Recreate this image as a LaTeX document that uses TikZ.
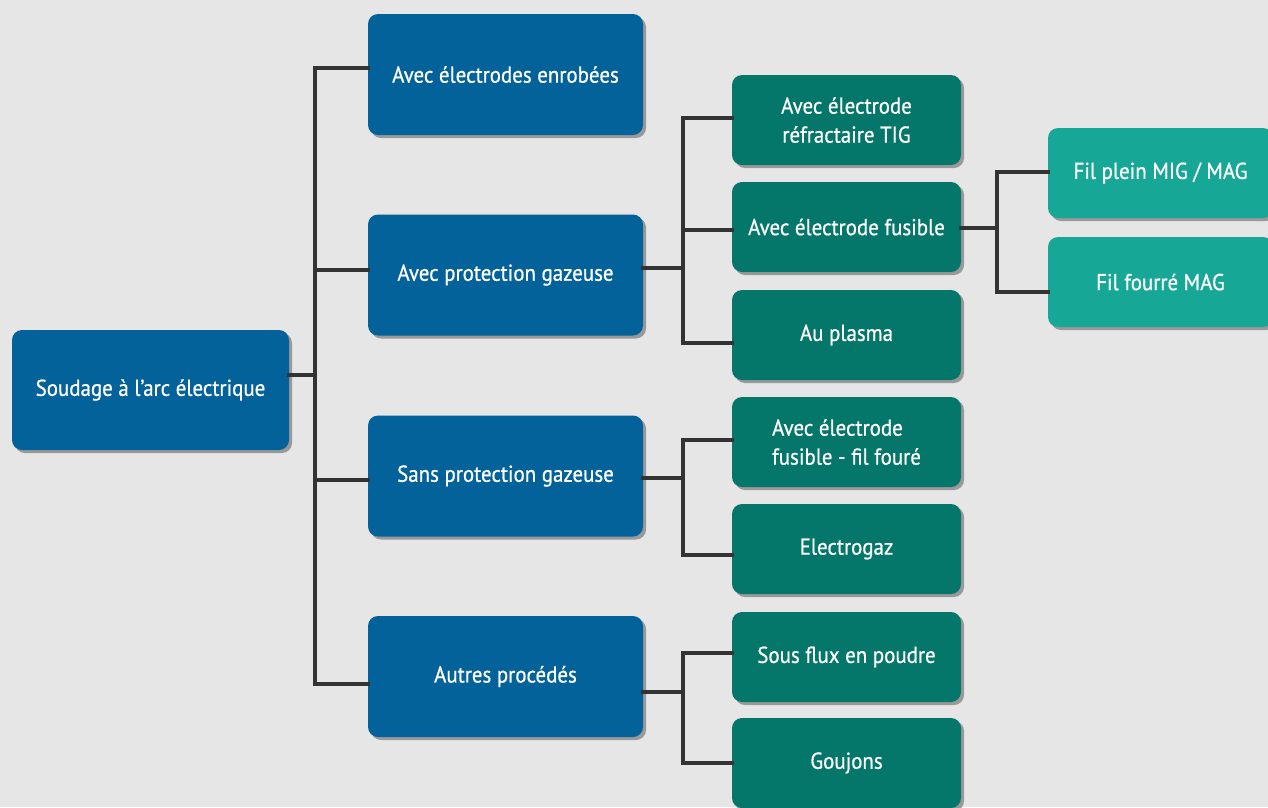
\documentclass[tikz,border=0pt]{standalone}
\usepackage{fontspec}
\setmainfont{PT Sans}[FakeStretch=0.91, FakeBold=0.7]
\usetikzlibrary{shadows}
\definecolor{bg}{HTML}{E6E6E6}
\definecolor{bluebox}{HTML}{03629A}
\definecolor{darkteal}{HTML}{05766A}
\definecolor{lightteal}{HTML}{17A797}
\definecolor{conncol}{HTML}{333333}
\tikzset{
  boxbase/.style={rounded corners=10pt, text=white, align=center,
    font=\fontsize{23}{29}\selectfont, inner sep=0pt,
    drop shadow={shadow xshift=3pt, shadow yshift=-3pt, fill=black!40, opacity=1}},
  lvlzero/.style={boxbase, fill=bluebox, minimum width=277pt, minimum height=120pt},
  lvlone/.style={boxbase, fill=bluebox, minimum width=275pt, minimum height=121pt},
  lvltwo/.style={boxbase, fill=darkteal, minimum width=229pt, minimum height=90pt},
  lvlthree/.style={boxbase, fill=lightteal, minimum width=225pt, minimum height=90pt},
  conn/.style={draw=conncol, line width=4.5pt, line cap=rect}
}
\begin{document}
\begin{tikzpicture}[x=1pt, y=-1pt]
\useasboundingbox (0,0) rectangle (1268,807);
\fill[bg] (0,0) rectangle (1268,807);

% nodes
\node[lvlzero] (root) at (150.5,390) {Soudage à l’arc électrique};

\node[lvlone] (enr) at (505.5,74.5) {Avec électrodes enrobées};
\node[lvlone] (avg) at (505.5,275) {Avec protection gazeuse};
\node[lvlone] (sag) at (505.5,476) {Sans protection gazeuse};
\node[lvlone] (aut) at (505.5,676.5) {Autres procédés};

\node[lvltwo] (tig) at (846.5,120) {Avec électrode\\réfractaire TIG};
\node[lvltwo] (fus) at (846.5,227) {Avec électrode fusible};
\node[lvltwo] (pla) at (846.5,335) {Au plasma};
\node[lvltwo, align=left] (fil) at (846.5,442) {Avec électrode\\fusible - fil fouré};
\node[lvltwo] (ele) at (846.5,549) {Electrogaz};
\node[lvltwo] (sou) at (846.5,657) {Sous flux en poudre};
\node[lvltwo] (gou) at (846.5,763) {Goujons};

\node[lvlthree] (mig) at (1160.5,173) {Fil plein MIG / MAG};
\node[lvlthree] (mag) at (1160.5,282) {Fil fourré MAG};

% junction coordinates
\coordinate (ja) at (315,375);
\coordinate (jat) at (315,68);
\coordinate (jab) at (315,684);
\coordinate (jb) at (683,268);
\coordinate (jbt) at (683,118);
\coordinate (jbb) at (683,343);
\coordinate (jc) at (683,478);
\coordinate (jct) at (683,440);
\coordinate (jcb) at (683,555);
\coordinate (jd) at (683,692);
\coordinate (jdt) at (683,653);
\coordinate (jdb) at (683,763);
\coordinate (je) at (997,228);
\coordinate (jet) at (997,172);
\coordinate (jeb) at (997,292);

% level 0 -> 1
\draw[conn] (root.east |- ja) -- (ja);
\draw[conn] (jat) -- (jab);
\draw[conn] (jat) -- (enr.west |- jat);
\draw[conn] (315,270) -- (avg.west |- 0,270);
\draw[conn] (315,480) -- (sag.west |- 0,480);
\draw[conn] (jab) -- (aut.west |- jab);
% avg -> level 2
\draw[conn] (avg.east |- jb) -- (jb);
\draw[conn] (jbt) -- (jbb);
\draw[conn] (jbt) -- (tig.west |- jbt);
\draw[conn] (683,230) -- (fus.west |- 0,230);
\draw[conn] (jbb) -- (pla.west |- jbb);
% sag -> level 2
\draw[conn] (sag.east |- jc) -- (jc);
\draw[conn] (jct) -- (jcb);
\draw[conn] (jct) -- (fil.west |- jct);
\draw[conn] (jcb) -- (ele.west |- jcb);
% aut -> level 2
\draw[conn] (aut.east |- jd) -- (jd);
\draw[conn] (jdt) -- (jdb);
\draw[conn] (jdt) -- (sou.west |- jdt);
\draw[conn] (jdb) -- (gou.west |- jdb);
% fus -> level 3
\draw[conn] (fus.east |- je) -- (je);
\draw[conn] (jet) -- (jeb);
\draw[conn] (jet) -- (mig.west |- jet);
\draw[conn] (jeb) -- (mag.west |- jeb);
\end{tikzpicture}
\end{document}
